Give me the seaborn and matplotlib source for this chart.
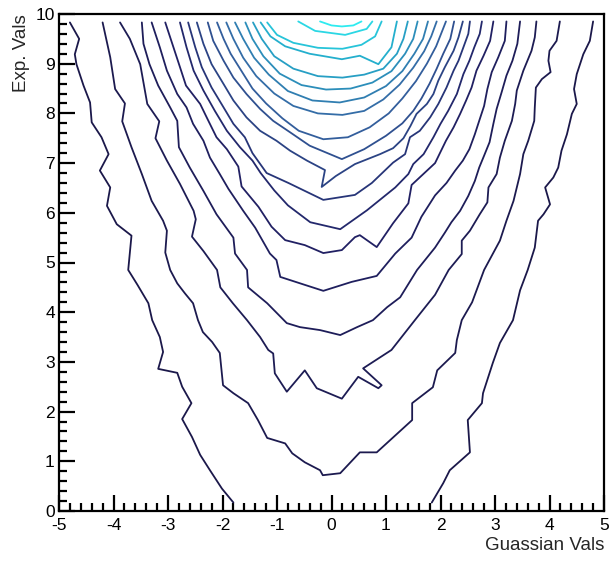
import matplotlib
matplotlib.use("Agg")
import matplotlib.pyplot as plt
from matplotlib.ticker import MultipleLocator
from matplotlib.colors import LinearSegmentedColormap
import seaborn as sns

# ---------------- data: contour lines (x = Guassian Vals, y = Exp. Vals)
c01_left = [(-4.80,9.83),(-4.63,9.50),(-4.71,9.19),(-4.68,8.99),(-4.55,8.56),(-4.43,8.22),(-4.40,7.82),
            (-4.22,7.52),(-4.09,7.18),(-4.25,6.85),(-4.06,6.51),(-4.12,6.14),(-3.94,5.77),(-3.67,5.54),
            (-3.73,4.85),(-3.56,4.55),(-3.36,4.18),(-3.29,3.84),(-3.15,3.50),(-3.09,3.20),(-3.18,2.86),
            (-2.83,2.78),(-2.74,2.50),(-2.57,2.17),(-2.74,1.85),(-2.56,1.49),(-2.41,1.13),(-2.23,0.82),
            (-2.01,0.45),(-1.80,0.17)]
c01_right = [(4.80,9.85),(4.74,9.46),(4.62,9.19),(4.50,8.79),(4.45,8.49),(4.50,8.19),(4.41,7.99),
             (4.32,7.58),(4.22,7.25),(4.16,6.91),(4.07,6.71),(3.92,6.51),(4.01,6.17),(3.89,5.97),
             (3.79,5.84),(3.73,5.30),(3.60,4.85),(3.46,4.44),(3.33,3.84),(3.09,3.38),(2.96,2.98),
             (2.78,2.37),(2.76,2.17),(2.50,1.83),(2.54,1.18),(2.17,0.82),(2.05,0.56),(1.84,0.17)]
c02 = [(-4.20,9.83),(-4.06,9.13),(-3.97,8.49),(-3.79,8.20),(-3.84,7.84),(-3.67,7.32),(-3.48,6.78),
       (-3.30,6.24),(-3.09,5.84),(-3.02,5.64),(-3.05,5.20),(-2.96,4.85),(-2.83,4.58),(-2.69,4.38),
       (-2.54,4.18),(-2.45,3.84),(-2.36,3.60),(-2.19,3.40),(-2.05,3.18),(-1.99,2.53),(-1.80,2.37),
       (-1.53,2.17),(-1.35,1.83),(-1.18,1.47),(-0.85,1.36),(-0.72,1.16),(-0.49,0.98),(-0.21,0.82),
       (-0.16,0.72),(0.16,0.76),(0.52,1.18),(0.83,1.18),(1.07,1.42),(1.48,1.83),(1.48,2.17),
       (1.86,2.49),(1.94,2.83),(2.27,3.18),(2.30,3.44),(2.39,3.84),(2.58,4.20),(2.80,4.85),
       (3.09,5.44),(3.21,5.84),(3.34,6.24),(3.40,6.51),(3.46,6.78),(3.52,7.18),(3.61,7.45),
       (3.72,7.85),(3.73,8.12),(3.75,8.52),(3.86,8.69),(4.02,8.83),(3.98,9.06),(4.00,9.26),
       (4.13,9.46),(4.19,9.85)]
c03 = [(-3.88,9.83),(-3.70,9.50),(-3.51,8.99),(-3.38,8.19),(-3.16,7.84),(-3.23,7.50),(-3.02,7.05),
       (-2.78,6.58),(-2.53,6.04),(-2.49,5.87),(-2.56,5.52),(-2.35,5.23),(-2.10,4.85),(-2.04,4.50),
       (-1.81,4.18),(-1.55,3.84),(-1.31,3.50),(-1.16,3.24),(-1.07,3.17),(-1.04,2.77),(-0.82,2.40),
       (-0.49,2.83),(-0.27,2.47),(0.19,2.26),(0.49,2.70),(0.86,2.47),(0.92,2.53),(0.58,2.87),
       (1.10,3.24),(1.53,3.84),(1.90,4.35),(2.15,4.85),(2.39,5.17),(2.39,5.44),(2.54,5.64),
       (2.72,5.97),(2.86,6.21),(2.88,6.51),(3.03,6.78),(3.09,7.11),(3.18,7.45),(3.31,7.85),
       (3.37,8.19),(3.40,8.46),(3.52,8.86),(3.67,9.26),(3.73,9.53),(3.76,9.85)]
c04 = [(-3.48,9.83),(-3.45,9.40),(-3.34,8.99),(-3.18,8.56),(-2.96,8.12),(-2.83,7.85),(-2.80,7.32),
       (-2.60,6.91),(-2.35,6.44),(-2.11,5.97),(-1.80,5.50),(-1.77,5.18),(-1.55,4.85),(-1.53,4.50),
       (-1.18,4.18),(-0.82,3.78),(-0.58,3.70),(-0.21,3.64),(0.16,3.54),(0.47,3.70),(0.76,3.84),
       (1.02,4.10),(1.26,4.30),(1.57,4.85),(1.90,5.30),(2.08,5.60),(2.20,5.81),(2.36,6.04),
       (2.51,6.34),(2.63,6.64),(2.71,6.91),(2.80,7.15),(2.90,7.42),(2.97,7.79),(3.03,8.09),
       (3.12,8.42),(3.21,8.76),(3.32,9.06),(3.41,9.40),(3.46,9.85)]
c05 = [(-3.30,9.83),(-3.15,9.33),(-3.02,8.86),(-2.83,8.39),(-2.66,8.12),(-2.54,7.79),(-2.35,7.45),
       (-2.23,7.11),(-2.05,6.78),(-1.89,6.48),(-1.62,6.04),(-1.40,5.70),(-1.13,5.18),(-1.01,5.05),
       (-0.94,4.71),(-0.49,4.55),(-0.15,4.43),(0.37,4.61),(0.83,4.73),(1.17,5.18),(1.47,5.50),
       (1.65,5.92),(1.90,6.35),(2.11,6.60),(2.27,6.85),(2.41,7.05),(2.53,7.28),(2.63,7.58),
       (2.71,7.85),(2.80,8.15),(2.86,8.49),(2.94,8.83),(3.06,9.13),(3.18,9.46),(3.21,9.85)]
c06 = [(-3.05,9.83),(-2.90,9.33),(-2.78,8.93),(-2.67,8.56),(-2.41,8.19),(-2.29,7.92),(-2.11,7.52),
       (-1.92,7.28),(-1.71,6.93),(-1.65,6.53),(-1.34,6.12),(-1.10,5.72),(-0.85,5.45),(-0.49,5.35),
       (-0.15,5.19),(0.19,5.25),(0.43,5.51),(0.52,5.55),(0.83,5.31),(1.13,5.79),(1.41,6.19),
       (1.47,6.56),(1.90,7.00),(2.10,7.45),(2.24,7.72),(2.36,7.99),(2.47,8.26),(2.57,8.52),
       (2.66,8.86),(2.79,9.16),(2.91,9.46),(2.97,9.85)]
c07 = [(-2.78,9.83),(-2.66,9.33),(-2.53,8.86),(-2.35,8.46),(-2.14,8.05),(-1.92,7.65),(-1.68,7.32),
       (-1.45,7.05),(-1.30,6.80),(-1.05,6.45),(-0.80,6.15),(-0.39,5.81),(0.16,5.67),(0.65,6.05),
       (1.17,6.51),(1.41,6.78),(1.50,6.98),(1.69,7.18),(1.87,7.52),(2.00,7.79),(2.14,8.05),
       (2.30,8.39),(2.42,8.79),(2.53,9.06),(2.62,9.33),(2.72,9.60),(2.76,9.85)]
c08 = [(-2.63,9.83),(-2.50,9.33),(-2.38,8.93),(-2.20,8.52),(-1.98,8.12),(-1.80,7.79),(-1.59,7.52),
       (-1.45,7.20),(-1.19,6.80),(-0.79,6.60),(-0.15,6.26),(0.43,6.36),(0.74,6.60),(1.13,7.01),
       (1.35,7.18),(1.44,7.52),(1.62,7.65),(1.81,7.92),(1.96,8.19),(2.11,8.52),(2.24,8.86),
       (2.33,9.06),(2.42,9.33),(2.51,9.60),(2.54,9.85)]
c09 = [(-2.47,9.83),(-2.35,9.40),(-2.20,8.99),(-1.98,8.59),(-1.80,8.26),(-1.56,7.92),(-1.31,7.65),
       (-1.01,7.45),(-0.76,7.25),(-0.45,7.05),(-0.12,6.86),(-0.18,6.52),(0.08,6.74),(0.43,6.98),
       (0.89,7.18),(1.13,7.30),(1.32,7.50),(1.45,7.75),(1.56,7.99),(1.75,8.19),(1.87,8.39),
       (1.96,8.66),(2.08,8.93),(2.24,9.26),(2.33,9.53),(2.41,9.85)]
c10 = [(-2.27,9.83),(-2.17,9.46),(-1.98,9.06),(-1.80,8.72),(-1.56,8.39),(-1.31,8.09),(-1.07,7.85),
       (-0.76,7.62),(-0.40,7.35),(0.19,7.08),(0.60,7.28),(1.00,7.55),(1.30,7.80),(1.50,8.05),
       (1.65,8.30),(1.80,8.60),(1.93,8.90),(2.05,9.20),(2.18,9.50),(2.25,9.85)]
c11 = [(-2.10,9.83),(-1.98,9.50),(-1.85,9.20),(-1.65,8.85),(-1.45,8.50),(-1.20,8.20),(-0.90,7.90),
       (-0.60,7.65),(-0.15,7.48),(0.30,7.52),(0.70,7.72),(1.05,8.00),(1.30,8.30),(1.55,8.65),
       (1.75,9.00),(1.92,9.35),(2.10,9.85)]
c12 = [(-1.93,9.83),(-1.80,9.50),(-1.62,9.12),(-1.38,8.75),(-1.05,8.40),(-0.70,8.15),(-0.25,8.00),
       (0.20,7.97),(0.60,8.05),(0.95,8.28),(1.25,8.58),(1.50,8.92),(1.70,9.25),(1.83,9.55),(1.93,9.85)]
c13 = [(-1.77,9.83),(-1.62,9.50),(-1.42,9.12),(-1.15,8.78),(-0.80,8.45),(-0.35,8.26),(0.15,8.22),
       (0.60,8.32),(1.00,8.55),(1.30,8.85),(1.52,9.20),(1.68,9.50),(1.77,9.85)]
c14 = [(-1.58,9.83),(-1.45,9.50),(-1.25,9.15),(-0.95,8.80),(-0.55,8.57),(-0.10,8.48),(0.35,8.50),
       (0.75,8.62),(1.10,8.85),(1.35,9.20),(1.50,9.50),(1.58,9.85)]
c15 = [(-1.44,9.83),(-1.28,9.50),(-1.05,9.15),(-0.70,8.90),(-0.25,8.75),(0.20,8.72),(0.60,8.78),
       (0.95,8.90),(1.20,9.20),(1.32,9.50),(1.40,9.85)]
c16 = [(-1.30,9.83),(-1.12,9.55),(-0.85,9.35),(-0.40,9.20),(0.19,9.09),(0.52,9.16),(0.86,8.99),
       (1.10,9.33),(1.20,9.85)]
c17 = [(-1.18,9.83),(-1.00,9.58),(-0.70,9.42),(-0.25,9.32),(0.20,9.30),(0.55,9.38),(0.80,9.55),
       (0.92,9.85)]
c18 = [(-0.61,9.85),(-0.30,9.66),(0.25,9.58),(0.645,9.70),(0.75,9.85)]
c19 = [(-0.21,9.85),(0.00,9.77),(0.19,9.75),(0.40,9.77),(0.55,9.85)]

contour_lines = [(c01_left, 1), (c01_right, 1), (c02, 2), (c03, 3), (c04, 4), (c05, 5), (c06, 6),
                 (c07, 7), (c08, 8), (c09, 9), (c10, 10), (c11, 11), (c12, 12), (c13, 13),
                 (c14, 14), (c15, 15), (c16, 16), (c17, 17), (c18, 18), (c19, 19)]
n_levels = 19

x_ticks = [-5, -4, -3, -2, -1, 0, 1, 2, 3, 4, 5]
y_ticks = [0, 1, 2, 3, 4, 5, 6, 7, 8, 9, 10]
x_label = "Guassian Vals"
y_label = "Exp. Vals"

# ---------------- style
sns.set_style("ticks")
plt.rcParams["font.family"] = ["Liberation Sans", "DejaVu Sans"]

deep_sea = LinearSegmentedColormap.from_list(
    "deepsea",
    [(0.00, (0.10, 0.09, 0.27)), (0.34, (0.13, 0.13, 0.40)), (0.61, (0.21, 0.40, 0.64)),
     (0.84, (0.14, 0.68, 0.80)), (1.00, (0.18, 0.92, 0.94))])

fig = plt.figure(figsize=(6.10, 5.63), dpi=100)
ax = fig.add_axes([59 / 610, 52 / 563, 545 / 610, 497 / 563])

for pts, lev in contour_lines:
    xs = [p[0] for p in pts]
    ys = [p[1] for p in pts]
    sns.lineplot(x=xs, y=ys, sort=False, estimator=None, ax=ax,
                 color=deep_sea(lev / n_levels), linewidth=1.3)

ax.set_xlim(-5, 5)
ax.set_ylim(0, 10)
ax.set_xticks(x_ticks)
ax.set_yticks(y_ticks)
ax.set_xticklabels([str(v) for v in x_ticks])
ax.set_yticklabels([str(v) for v in y_ticks])
ax.xaxis.set_minor_locator(MultipleLocator(0.2))
ax.yaxis.set_minor_locator(MultipleLocator(0.2))
ax.tick_params(which="both", direction="in", top=False, right=False, width=1.6, colors="black")
ax.tick_params(which="major", length=11.5, labelsize=12.5, pad=5)
ax.tick_params(which="minor", length=6)
ax.tick_params(axis="y", which="major", pad=3)
for s in ax.spines.values():
    s.set_visible(True)
    s.set_linewidth(1.6)
    s.set_color("black")

ax.set_xlabel(x_label, fontsize=13.5, loc="right", labelpad=3)
ax.set_ylabel(y_label, fontsize=13.5, loc="top", labelpad=4)

fig.savefig("out.png", dpi=100)
